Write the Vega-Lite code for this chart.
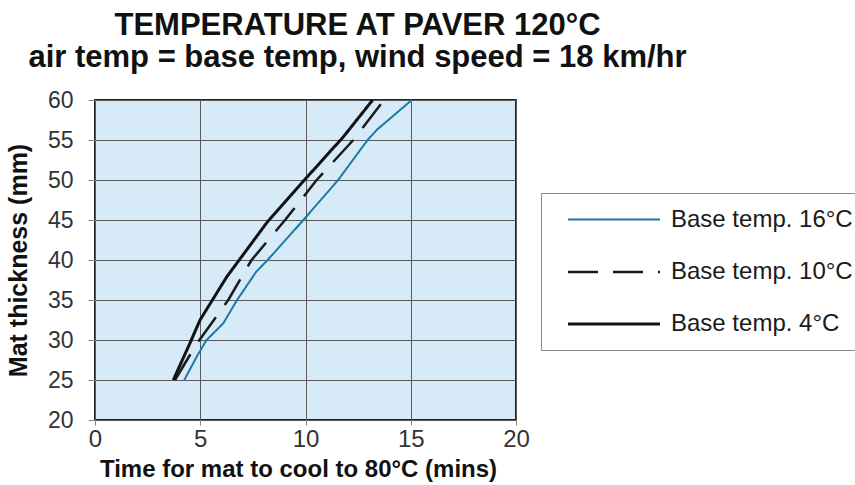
{
  "$schema": "https://vega.github.io/schema/vega-lite/v6.json",
  "width": 421,
  "height": 320,
  "autosize": {"type": "none"},
  "padding": {"left": 95, "top": 100, "right": 339, "bottom": 65},
  "background": "white",
  "title": {
    "text": ["TEMPERATURE AT PAVER 120°C", "air temp = base temp, wind speed = 18 km/hr"],
    "anchor": "middle",
    "frame": "group",
    "dx": 52,
    "offset": 15,
    "font": "Liberation Sans",
    "fontSize": 31,
    "fontWeight": "bold",
    "color": "#111",
    "lineHeight": 32
  },
  "data": {
    "values": [
      {"series": "Base temp. 16°C", "t": 4.24, "mm": 25},
      {"series": "Base temp. 16°C", "t": 4.85, "mm": 28},
      {"series": "Base temp. 16°C", "t": 5.3, "mm": 30},
      {"series": "Base temp. 16°C", "t": 6.1, "mm": 32.1},
      {"series": "Base temp. 16°C", "t": 6.75, "mm": 35},
      {"series": "Base temp. 16°C", "t": 7.65, "mm": 38.5},
      {"series": "Base temp. 16°C", "t": 8.2, "mm": 40},
      {"series": "Base temp. 16°C", "t": 9.9, "mm": 45},
      {"series": "Base temp. 16°C", "t": 11.55, "mm": 50},
      {"series": "Base temp. 16°C", "t": 12.95, "mm": 55},
      {"series": "Base temp. 16°C", "t": 13.4, "mm": 56.3},
      {"series": "Base temp. 16°C", "t": 15.05, "mm": 60},
      {"series": "Base temp. 10°C", "t": 3.8, "mm": 25},
      {"series": "Base temp. 10°C", "t": 4.8, "mm": 29.4},
      {"series": "Base temp. 10°C", "t": 6.33, "mm": 35},
      {"series": "Base temp. 10°C", "t": 7.44, "mm": 40},
      {"series": "Base temp. 10°C", "t": 9.03, "mm": 45},
      {"series": "Base temp. 10°C", "t": 10.53, "mm": 50},
      {"series": "Base temp. 10°C", "t": 12.27, "mm": 55},
      {"series": "Base temp. 10°C", "t": 13.73, "mm": 60},
      {"series": "Base temp. 4°C", "t": 3.72, "mm": 25},
      {"series": "Base temp. 4°C", "t": 4.51, "mm": 29.6},
      {"series": "Base temp. 4°C", "t": 4.99, "mm": 32.5},
      {"series": "Base temp. 4°C", "t": 6.26, "mm": 37.9},
      {"series": "Base temp. 4°C", "t": 8.2, "mm": 44.8},
      {"series": "Base temp. 4°C", "t": 9.95, "mm": 50},
      {"series": "Base temp. 4°C", "t": 11.8, "mm": 55.4},
      {"series": "Base temp. 4°C", "t": 13.19, "mm": 60}
    ]
  },
  "mark": {"type": "line", "strokeCap": "butt", "strokeJoin": "round"},
  "encoding": {
    "x": {
      "field": "t", "type": "quantitative",
      "scale": {"domain": [0, 20], "nice": false, "zero": false},
      "axis": {"values": [0, 5, 10, 15, 20], "title": "Time for mat to cool to 80°C (mins)", "titleX": 203}
    },
    "y": {
      "field": "mm", "type": "quantitative",
      "scale": {"domain": [20, 60], "nice": false, "zero": false},
      "axis": {"values": [20, 25, 30, 35, 40, 45, 50, 55, 60], "title": "Mat thickness (mm)"}
    },
    "order": {"field": "mm", "type": "quantitative"},
    "color": {
      "field": "series", "type": "nominal",
      "scale": {"domain": ["Base temp. 16°C", "Base temp. 10°C", "Base temp. 4°C"], "range": ["#1b7ba6", "#1a1a1a", "#111111"]},
      "legend": {
        "title": null,
        "orient": "none",
        "legendX": 446,
        "legendY": 93,
        "padding": 14,
        "strokeColor": "#8a8a8a",
        "fillColor": "white",
        "symbolType": "M0,0H8",
        "symbolSize": 529,
        "labelOffset": 90,
        "labelLimit": 400,
        "labelFont": "Liberation Sans",
        "labelFontSize": 24,
        "labelColor": "#1a1a1a",
        "rowPadding": 27
      }
    },
    "strokeDash": {
      "field": "series", "type": "nominal",
      "scale": {"domain": ["Base temp. 16°C", "Base temp. 10°C", "Base temp. 4°C"], "range": [[1, 0], [30, 15], [1, 0]]},
      "legend": {
        "title": null,
        "orient": "none",
        "legendX": 446,
        "legendY": 93,
        "padding": 14,
        "strokeColor": "#8a8a8a",
        "fillColor": "white",
        "symbolType": "M0,0H8",
        "symbolSize": 529,
        "labelOffset": 90,
        "labelLimit": 400,
        "labelFont": "Liberation Sans",
        "labelFontSize": 24,
        "labelColor": "#1a1a1a",
        "rowPadding": 27
      }
    },
    "strokeWidth": {
      "field": "series", "type": "nominal",
      "scale": {"domain": ["Base temp. 16°C", "Base temp. 10°C", "Base temp. 4°C"], "range": [2, 3, 4.5]},
      "legend": {
        "title": null,
        "orient": "none",
        "legendX": 446,
        "legendY": 93,
        "padding": 14,
        "strokeColor": "#8a8a8a",
        "fillColor": "white",
        "symbolType": "M0,0H8",
        "symbolSize": 529,
        "labelOffset": 90,
        "labelLimit": 400,
        "labelFont": "Liberation Sans",
        "labelFontSize": 24,
        "labelColor": "#1a1a1a",
        "rowPadding": 27
      }
    }
  },
  "config": {
    "view": {"fill": "#d6eaf8", "stroke": "#222", "strokeWidth": 2},
    "axis": {
      "grid": true,
      "gridColor": "#5a5a5a",
      "gridWidth": 1,
      "gridOpacity": 1,
      "domain": false,
      "tickColor": "#888",
      "labelFlush": false,
      "labelOverlap": false,
      "labelFont": "Liberation Sans",
      "labelColor": "#333",
      "titleFont": "Liberation Sans",
      "titleFontWeight": "bold",
      "titleColor": "#111"
    },
    "axisX": {"tickSize": 5, "labelFontSize": 24, "labelPadding": 2, "titleFontSize": 24, "titlePadding": 6},
    "axisY": {"tickSize": 7, "labelFontSize": 23, "labelPadding": 15, "titleFontSize": 25, "titlePadding": 16}
  }
}
